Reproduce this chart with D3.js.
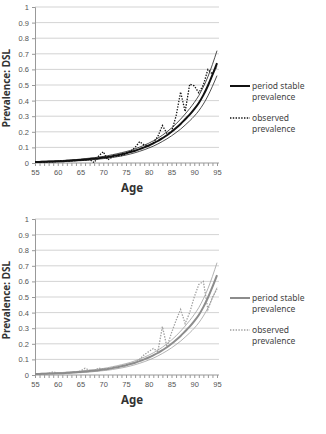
<!DOCTYPE html>
<html>
<head>
<meta charset="utf-8">
<script src="https://cdn.jsdelivr.net/npm/d3@7/dist/d3.min.js"></script>
<style>
  body { margin: 0; background: #fff; }
  svg { display: block; font-family: "Noto Sans", "Open Sans", sans-serif; }
</style>
</head>
<body>
<svg width="326" height="434"></svg>
<script>
// ages 55..95, one value per year
const ages = d3.range(55, 96);
const yTicks = [0, 0.1, 0.2, 0.3, 0.4, 0.5, 0.6, 0.7, 0.8, 0.9, 1];
const xTicks = [55, 60, 65, 70, 75, 80, 85, 90, 95];

// top panel
const stableTop = [0.006, 0.007, 0.008, 0.009, 0.010, 0.011, 0.012, 0.014, 0.016, 0.018,
  0.020, 0.022, 0.025, 0.028, 0.031, 0.035, 0.039, 0.044, 0.050, 0.056,
  0.063, 0.070, 0.079, 0.089, 0.100, 0.112, 0.126, 0.141, 0.159, 0.178,
  0.200, 0.224, 0.250, 0.280, 0.310, 0.345, 0.385, 0.435, 0.495, 0.565, 0.640];
const upperTop = [0.009, 0.010, 0.011, 0.012, 0.013, 0.014, 0.016, 0.018, 0.020, 0.022,
  0.025, 0.028, 0.031, 0.034, 0.038, 0.042, 0.047, 0.053, 0.059, 0.066,
  0.073, 0.081, 0.091, 0.102, 0.114, 0.127, 0.142, 0.159, 0.178, 0.200,
  0.224, 0.251, 0.281, 0.314, 0.349, 0.388, 0.432, 0.488, 0.553, 0.632, 0.720];
const lowerTop = [0.003, 0.004, 0.005, 0.006, 0.007, 0.008, 0.009, 0.010, 0.012, 0.014,
  0.015, 0.017, 0.019, 0.022, 0.025, 0.028, 0.031, 0.035, 0.040, 0.045,
  0.051, 0.058, 0.066, 0.075, 0.085, 0.096, 0.108, 0.122, 0.138, 0.155,
  0.174, 0.195, 0.217, 0.243, 0.270, 0.300, 0.335, 0.378, 0.430, 0.492, 0.560];
const observedTop = [0.004, 0.005, 0.006, 0.008, 0.007, 0.010, 0.016, 0.012, 0.013, 0.016,
  0.018, 0.020, 0.022, 0.003, 0.045, 0.072, 0.020, 0.040, 0.045, 0.048,
  0.058, 0.075, 0.100, 0.137, 0.115, 0.110, 0.130, 0.170, 0.240, 0.190,
  0.200, 0.300, 0.455, 0.330, 0.505, 0.495, 0.450, 0.500, 0.600, 0.570, 0.620];

// bottom panel
const stableBottom = stableTop;
const upperBottom = upperTop;
const lowerBottom = lowerTop;
const observedBottom = [0.004, 0.006, 0.008, 0.010, 0.020, 0.010, 0.012, 0.013, 0.015, 0.017,
  0.025, 0.043, 0.030, 0.025, 0.045, 0.035, 0.040, 0.045, 0.050, 0.055,
  0.060, 0.070, 0.080, 0.100, 0.130, 0.150, 0.170, 0.150, 0.310, 0.180,
  0.270, 0.350, 0.420, 0.330, 0.400, 0.500, 0.580, 0.600, 0.420, 0.500, 0.550];

const legendLabels = [["period stable", "prevalence"], ["observed", "prevalence"]];

const svg = d3.select("svg");
const x = d3.scaleLinear().domain([55, 95]).range([35, 217]);

function drawPanel(top, bottom, stable, upper, lower, observed, color, boundColor, dotColor) {
  const y = d3.scaleLinear().domain([0, 1]).range([bottom, top]);
  const g = svg.append("g");

  // grid
  g.selectAll(".grid").data(yTicks.slice(1)).join("line")
    .attr("x1", x(55)).attr("x2", 219)
    .attr("y1", d => y(d)).attr("y2", d => y(d))
    .attr("stroke", "#c8c8c8").attr("stroke-width", 0.8);

  // y axis
  const ya = g.append("g").attr("transform", `translate(${x(55)},0)`)
    .call(d3.axisLeft(y).tickValues(yTicks).tickFormat(d3.format("")).tickSize(3).tickPadding(3));
  ya.select(".domain").attr("stroke", "#999");
  ya.selectAll(".tick line").attr("stroke", "#999");
  ya.selectAll("text").attr("fill", "#555").attr("font-size", 7.5);

  // x axis (minor ticks every year)
  const xa = g.append("g").attr("transform", `translate(0,${bottom})`)
    .call(d3.axisBottom(x).tickValues(ages).tickFormat(d => xTicks.includes(d) ? d : "").tickSize(3).tickPadding(4));
  xa.select(".domain").attr("stroke", "#999").attr("d", `M${x(55)},0H219`);
  xa.selectAll(".tick line").attr("stroke", "#999");
  xa.selectAll("text").attr("fill", "#555").attr("font-size", 7.5);

  // titles
  g.append("text").attr("x", 132).attr("y", bottom + 29)
    .attr("text-anchor", "middle").attr("font-weight", "bold").attr("font-size", 11.5)
    .attr("fill", "#333").text("Age");
  g.append("text")
    .attr("transform", `translate(7,${(top + bottom) / 2 + 3}) rotate(-90)`)
    .attr("text-anchor", "middle").attr("dominant-baseline", "middle")
    .attr("font-weight", "bold").attr("font-size", 10)
    .attr("fill", "#333").text("Prevalence: DSL");

  const line = d3.line().x((d, i) => x(ages[i])).y(d => y(d));
  const curve = d3.line().curve(d3.curveMonotoneX).x((d, i) => x(ages[i])).y(d => y(d));

  g.append("path").datum(upper).attr("d", curve).attr("fill", "none")
    .attr("stroke", boundColor).attr("stroke-width", 0.8);
  g.append("path").datum(lower).attr("d", curve).attr("fill", "none")
    .attr("stroke", boundColor).attr("stroke-width", 0.8);
  g.append("path").datum(observed).attr("d", line).attr("fill", "none")
    .attr("stroke", dotColor).attr("stroke-width", 1.3).attr("stroke-dasharray", "1.4,1.4");
  g.append("path").datum(stable).attr("d", curve).attr("fill", "none")
    .attr("stroke", color).attr("stroke-width", 2);

  // legend
  const ly = [top + 79, top + 111];
  g.append("line").attr("x1", 230).attr("x2", 250).attr("y1", ly[0]).attr("y2", ly[0])
    .attr("stroke", color).attr("stroke-width", 2);
  g.append("line").attr("x1", 230).attr("x2", 250).attr("y1", ly[1]).attr("y2", ly[1])
    .attr("stroke", dotColor).attr("stroke-width", 1.3).attr("stroke-dasharray", "1.4,1.4");
  legendLabels.forEach((lab, i) => {
    const t = g.append("text").attr("x", 252).attr("y", ly[i] + 3)
      .attr("font-size", 8.5).attr("fill", "#444");
    lab.forEach((s, j) => t.append("tspan").attr("x", 252).attr("dy", j ? 10.5 : 0).text(s));
  });
}

drawPanel(7, 163, stableTop, upperTop, lowerTop, observedTop, "#111", "#222", "#111");
drawPanel(219, 375, stableBottom, upperBottom, lowerBottom, observedBottom, "#8c8c8c", "#a0a0a0", "#a0a0a0");
</script>
</body>
</html>
